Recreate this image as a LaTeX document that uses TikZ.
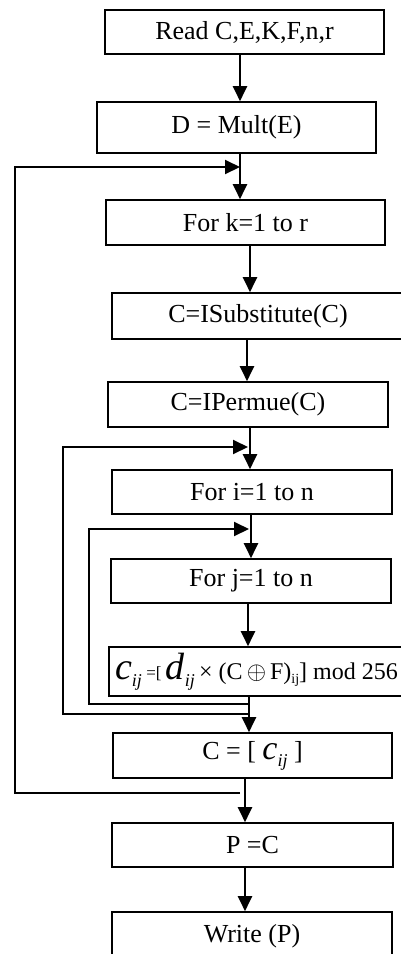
\documentclass[tikz,border=0pt]{standalone}
\usepackage{fontspec}
\setmainfont{Liberation Serif}
\usetikzlibrary{arrows.meta}
\newcommand{\fsz}[1]{\fontsize{#1}{#1}\selectfont}

\begin{document}
\begin{tikzpicture}[x=1pt,y=-1pt,
  box/.style={draw,line width=1.6pt,inner sep=0pt,minimum height=44pt,minimum width=280pt,font=\fsz{26}},
  arr/.style={line width=2pt,-{Triangle[width=14pt,length=15pt]}},
  loop/.style={line width=2pt}]
\useasboundingbox (0,0) rectangle (401,954);
\clip (0,0) rectangle (401,954);
\node[box,minimum width=279pt] (read) at (244.5,32) {Read C,E,K,F,n,r};
\node[box,minimum width=279pt,minimum height=51pt] (mult) at (236.5,127.5) {D = Mult(E)};
\node[box,minimum width=279pt,minimum height=45pt] (fork) at (245.5,222.5) {For k=1 to r};
\node[box,minimum width=292pt,minimum height=46pt] (subst) at (258,316) {C=ISubstitute(C)};
\node[box,minimum height=45pt] (permue) at (248,404.5) {C=IPermue(C)};
\node[box] (fori) at (252,492) {For i=1 to n};
\node[box] (forj) at (251,581) {For j=1 to n};
\node[box,minimum width=295pt,minimum height=49pt] (update) at (256.5,671.5)
  {{\fsz{38}\itshape c}\raisebox{-7pt}{\fsz{18}\itshape ij}\,\raisebox{1pt}{\fsz{17}=[}\,{\fsz{38}\itshape d}\raisebox{-7pt}{\fsz{18}\itshape ij}\,{\fsz{24}× (C\,{\fsz{36}$\oplus$}\,F)}\raisebox{-4pt}{\fsz{14}ij}{\fsz{24}] mod 256}};
\node[box,minimum width=279pt,minimum height=45pt] (assign) at (252.5,755.5)
  {C = [ {\fsz{34}\itshape c}\raisebox{-7pt}{\fsz{18}\itshape ij} ]};
\node[box,minimum width=281pt] (pc) at (252.5,845) {P =C};
\node[box,minimum height=48pt] (write) at (252,936) {Write (P)};

\coordinate (j1) at (240,167);
\coordinate (j2) at (248,447);
\coordinate (j3) at (249,529);
\coordinate (e3) at (249,704);
\coordinate (e2) at (249,714);
\coordinate (e1) at (240,793);
\coordinate (l1t) at (15,167);
\coordinate (l1b) at (15,793);
\coordinate (l2t) at (63,447);
\coordinate (l2b) at (63,714);
\coordinate (l3t) at (89,529);
\coordinate (l3b) at (89,704);

\draw[arr] ([xshift=-4.5pt]read.south) -- ([xshift=3.5pt]mult.north);
\draw[arr] ([xshift=3.5pt]mult.south) -- ([xshift=-5.5pt]fork.north);
\draw[arr] ([xshift=4.5pt]fork.south) -- ([xshift=-8pt]subst.north);
\draw[arr] ([xshift=-11pt]subst.south) -- ([xshift=-1pt]permue.north);
\draw[arr] ([xshift=2pt]permue.south) -- ([xshift=-2pt]fori.north);
\draw[arr] ([xshift=-1pt]fori.south) -- ([xshift=0pt]forj.north);
\draw[arr] ([xshift=-3pt]forj.south) -- ([xshift=-8.5pt]update.north);
\draw[arr] ([xshift=-7.5pt]update.south) -- ([xshift=-3.5pt]assign.north);
\draw[arr] ([xshift=-7.5pt]assign.south) -- ([xshift=-7.5pt]pc.north);
\draw[arr] ([xshift=-7.5pt]pc.south) -- ([xshift=-7pt]write.north);

% loops back
\draw[arr] (e1) -- (l1b) -- (l1t) -- (j1);
\draw[arr] (e2) -- (l2b) -- (l2t) -- (j2);
\draw[arr] (e3) -- (l3b) -- (l3t) -- (j3);
\end{tikzpicture}
\end{document}
